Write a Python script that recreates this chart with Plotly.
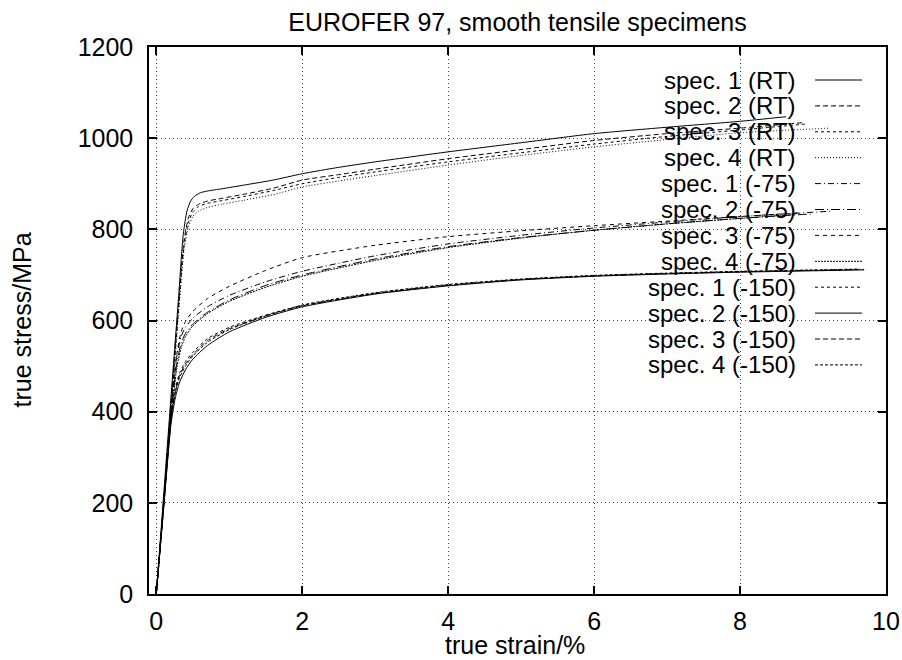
import plotly.graph_objects as go

# ---------------- data ----------------
x_ticks = [0, 2, 4, 6, 8, 10]
y_ticks = [0, 200, 400, 600, 800, 1000, 1200]

names = ["spec. 1 (RT)", "spec. 2 (RT)", "spec. 3 (RT)", "spec. 4 (RT)",
         "spec. 1 (-75)", "spec. 2 (-75)", "spec. 3 (-75)", "spec. 4 (-75)",
         "spec. 1 (-150)", "spec. 2 (-150)", "spec. 3 (-150)", "spec. 4 (-150)"]

rt1_strain = [0, 0.1, 0.2, 0.3, 0.37, 0.42, 0.47, 0.52, 0.6, 0.7, 0.9, 1.2, 1.6, 2.0, 2.5, 3.0, 4.0, 5.0, 6.0, 7.0, 8.0, 8.63]
rt1_stress = [0, 215, 430, 640, 790, 840, 862, 872, 880, 884, 889, 897, 908, 922, 936, 948, 970, 990, 1010, 1024, 1037, 1047]

rt2_strain = [0, 0.1, 0.2, 0.3, 0.38, 0.44, 0.5, 0.58, 0.7, 0.9, 1.2, 1.6, 2.0, 2.5, 3.0, 4.0, 5.0, 6.0, 7.0, 8.0, 8.86]
rt2_stress = [0, 205, 415, 625, 775, 825, 845, 855, 862, 868, 877, 890, 908, 920, 932, 955, 975, 995, 1010, 1022, 1034]

rt3_strain = [0, 0.1, 0.2, 0.3, 0.38, 0.44, 0.5, 0.58, 0.7, 0.9, 1.2, 1.6, 2.0, 2.5, 3.0, 4.0, 5.0, 6.0, 7.0, 8.0, 8.9]
rt3_stress = [0, 200, 405, 615, 765, 815, 838, 850, 857, 863, 872, 885, 900, 914, 926, 948, 968, 987, 1004, 1018, 1031]

rt4_strain = [0, 0.1, 0.2, 0.3, 0.38, 0.44, 0.5, 0.58, 0.7, 0.9, 1.2, 1.6, 2.0, 2.5, 3.0, 4.0, 5.0, 6.0, 7.0, 8.0, 9.22]
rt4_stress = [0, 195, 400, 605, 755, 805, 828, 840, 848, 855, 864, 876, 893, 906, 918, 941, 962, 981, 997, 1012, 1022]

m75_1_strain = [0, 0.1, 0.2, 0.28, 0.34, 0.4, 0.5, 0.7, 1.0, 1.5, 2.0, 3.0, 4.0, 5.0, 6.0, 7.0, 8.0, 9.27]
m75_1_stress = [0, 200, 400, 520, 565, 585, 605, 630, 655, 685, 708, 742, 768, 787, 803, 816, 828, 840]

m75_2_strain = [0, 0.1, 0.2, 0.28, 0.34, 0.4, 0.5, 0.7, 1.0, 1.5, 2.0, 3.0, 4.0, 5.0, 6.0, 7.0, 8.0, 9.0]
m75_2_stress = [0, 195, 390, 505, 550, 572, 592, 618, 645, 677, 700, 735, 762, 782, 798, 812, 824, 834]

m75_3_strain = [0, 0.1, 0.2, 0.28, 0.34, 0.4, 0.5, 0.7, 1.0, 1.5, 2.0, 3.0, 4.0, 5.0, 6.0, 7.0, 8.0, 8.8]
m75_3_stress = [0, 200, 400, 525, 575, 598, 620, 648, 675, 710, 738, 765, 784, 797, 808, 818, 828, 836]

m75_4_strain = [0, 0.1, 0.2, 0.28, 0.34, 0.4, 0.5, 0.7, 1.0, 1.5, 2.0, 3.0, 4.0, 5.0, 6.0, 7.0, 8.0, 8.76]
m75_4_stress = [0, 190, 380, 495, 540, 565, 588, 615, 642, 673, 697, 732, 760, 781, 798, 812, 824, 833]

m150_1_strain = [0, 0.1, 0.2, 0.26, 0.32, 0.4, 0.5, 0.7, 1.0, 1.5, 2.0, 3.0, 4.0, 5.0, 6.0, 7.0, 8.0, 9.0, 9.7]
m150_1_stress = [0, 195, 385, 450, 485, 510, 530, 560, 585, 612, 633, 660, 678, 690, 698, 703, 707, 710, 712]

m150_2_strain = [0, 0.1, 0.2, 0.26, 0.32, 0.4, 0.5, 0.7, 1.0, 1.5, 2.0, 3.0, 4.0, 5.0, 6.0, 7.0, 8.0, 9.0, 9.7]
m150_2_stress = [0, 185, 370, 430, 465, 492, 515, 545, 575, 607, 630, 658, 676, 689, 697, 702, 706, 709, 711]

m150_3_strain = [0, 0.1, 0.2, 0.26, 0.32, 0.4, 0.5, 0.7, 1.0, 1.5, 2.0, 3.0, 4.0, 5.0, 6.0, 7.0, 8.0, 9.0, 9.6]
m150_3_stress = [0, 190, 380, 445, 480, 505, 525, 556, 582, 610, 632, 659, 677, 690, 698, 703, 707, 710, 712]

m150_4_strain = [0, 0.1, 0.2, 0.26, 0.32, 0.4, 0.5, 0.7, 1.0, 1.5, 2.0, 3.0, 4.0, 5.0, 6.0, 7.0, 8.0, 9.0, 9.65]
m150_4_stress = [0, 192, 382, 440, 475, 500, 522, 552, 580, 610, 634, 661, 679, 691, 699, 704, 708, 711, 713]

strains = [rt1_strain, rt2_strain, rt3_strain, rt4_strain,
           m75_1_strain, m75_2_strain, m75_3_strain, m75_4_strain,
           m150_1_strain, m150_2_strain, m150_3_strain, m150_4_strain]
stresses = [rt1_stress, rt2_stress, rt3_stress, rt4_stress,
            m75_1_stress, m75_2_stress, m75_3_stress, m75_4_stress,
            m150_1_stress, m150_2_stress, m150_3_stress, m150_4_stress]

# ---------------- styles ----------------
dashes = ["solid", "5px,3px", "3px,3px", "1px,2px",
          "6px,3px,1px,3px", "9px,3px,1px,3px", "4px,4px", "2px,1px",
          "3px,3px", "solid", "5px,3px", "3px,2px"]

FONT = "Liberation Sans, Arial, Helvetica, sans-serif"
FS = 25
FS_LEG = 24

fig = go.Figure()
for nm, xs, ys, d in zip(names, strains, stresses, dashes):
    fig.add_trace(go.Scatter(x=xs, y=ys, mode="lines", name=nm,
                             line=dict(color="black", width=1, dash=d,
                                       shape="spline", smoothing=0.6),
                             showlegend=False))

# manual gnuplot-style legend: right-aligned text, sample line on the right
L, R, T, B = 149, 16, 47, 66
W, H = 902, 660
pw, ph = W - L - R, H - T - B
row0, drow = 80, 25.9
text_right = (797 - L) / pw
samp_x0, samp_x1 = (815 - L) / pw, (862 - L) / pw
for i, (nm, d) in enumerate(zip(names, dashes)):
    yp = (H - B - (row0 + i * drow)) / ph
    fig.add_annotation(x=text_right, y=yp, xref="paper", yref="paper",
                       text=nm, showarrow=False, xanchor="right", yanchor="middle",
                       borderpad=0,
                       font=dict(family=FONT, size=FS_LEG, color="black"))
    fig.add_shape(type="line", xref="paper", yref="paper",
                  x0=samp_x0, x1=samp_x1, y0=yp, y1=yp,
                  line=dict(color="black", width=1, dash=d))

# axis titles placed as in the reference
fig.add_annotation(x=(515 - L) / pw, y=-(645 - (H - B)) / ph, xref="paper", yref="paper",
                   text="true strain/%", showarrow=False, xanchor="center", yanchor="middle",
                   font=dict(family=FONT, size=FS, color="black"))
fig.add_annotation(x=-(L - 21) / pw, y=0.5, xref="paper", yref="paper",
                   text="true stress/MPa", showarrow=False, textangle=-90,
                   xanchor="center", yanchor="middle",
                   font=dict(family=FONT, size=FS, color="black"))

axis_common = dict(showline=True, linecolor="black", linewidth=1.5, mirror="allticks",
                   ticks="inside", ticklen=8, tickcolor="black", tickwidth=1.5,
                   showgrid=True, gridcolor="rgba(0,0,0,0.75)", griddash="1px,3px", gridwidth=1,
                   zeroline=False, tickfont=dict(family=FONT, size=FS, color="black"))

fig.update_layout(
    width=W, height=H,
    margin=dict(l=L, r=R, t=T, b=B, autoexpand=False),
    paper_bgcolor="white", plot_bgcolor="white",
    title=dict(text="EUROFER 97, smooth tensile specimens", x=(L + pw / 2) / W, xanchor="center",
               y=1 - 22 / H, yanchor="middle",
               font=dict(family=FONT, size=FS, color="black")),
    xaxis=dict(range=[-0.1, 10], tickvals=x_ticks, ticklabelstandoff=4, **axis_common),
    yaxis=dict(range=[0, 1200], tickvals=y_ticks, ticklabelstandoff=9, **axis_common),
)

fig.write_html("out.html")
